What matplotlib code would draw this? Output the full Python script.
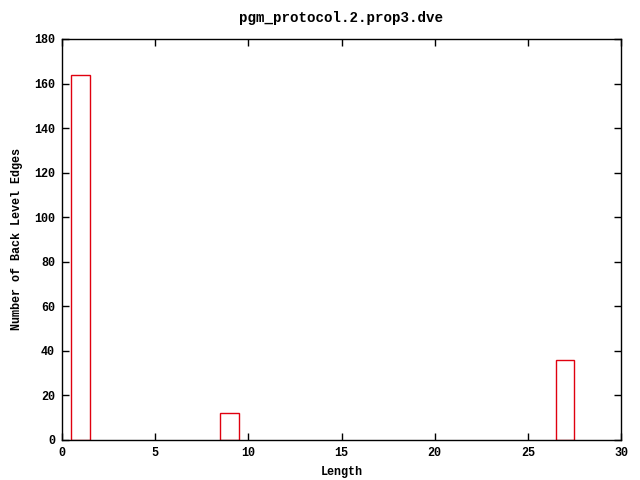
import matplotlib
matplotlib.use("Agg")
import matplotlib.pyplot as plt

lengths = [1, 9, 27]
edges = [164, 12, 36]
x_ticks = [0, 5, 10, 15, 20, 25, 30]
y_ticks = [0, 20, 40, 60, 80, 100, 120, 140, 160, 180]

plt.rcParams["font.family"] = ["Liberation Mono", "DejaVu Sans Mono"]
plt.rcParams["font.weight"] = "bold"
plt.rcParams["font.size"] = 8.5

fig = plt.figure(figsize=(6.4, 4.8), dpi=100)
ax = fig.add_axes([62 / 640, 1 - 440 / 480, 559 / 640, 401 / 480])

ax.bar(lengths, edges, width=1.0, fill=False, edgecolor="#e0000f", linewidth=1.0)

ax.set_xlim(0, 30)
ax.set_ylim(0, 180)
ax.set_xticks(x_ticks)
ax.set_yticks(y_ticks)
ax.tick_params(direction="in", top=True, right=True, length=5, width=1, pad=5)
for s in ax.spines.values():
    s.set_linewidth(1)

ax.set_xlabel("Length", labelpad=5, fontweight="bold")
ax.set_ylabel("Number of Back Level Edges", labelpad=8, fontweight="bold")
ax.set_title("pgm_protocol.2.prop3.dve", pad=12, fontweight="bold")

fig.savefig("out.png", dpi=100)
